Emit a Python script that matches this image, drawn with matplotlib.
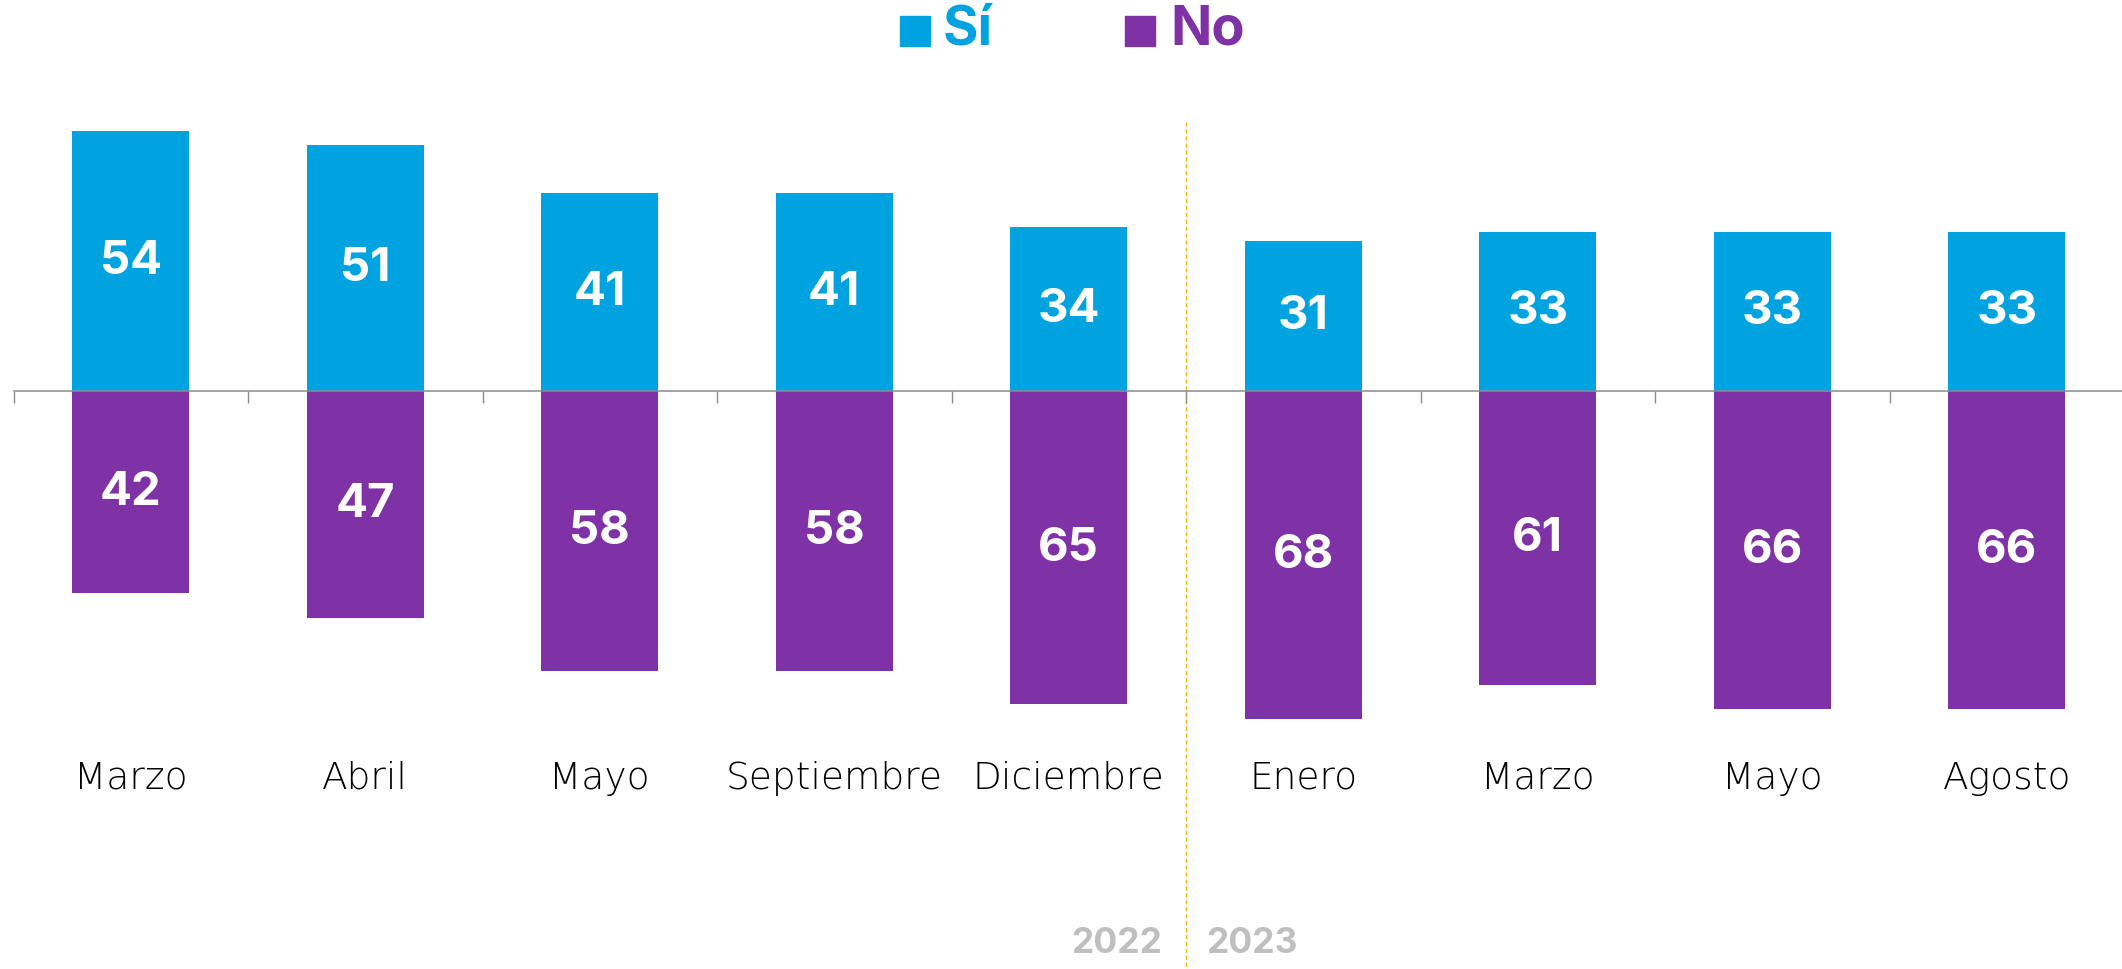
import matplotlib
matplotlib.use("Agg")
import matplotlib.pyplot as plt

categories = ["Marzo", "Abril", "Mayo", "Septiembre", "Diciembre",
              "Enero", "Marzo", "Mayo", "Agosto"]
si_values = [54, 51, 41, 41, 34, 31, 33, 33, 33]
no_values = [42, 47, 58, 58, 65, 68, 61, 66, 66]
years = ["2022", "2023"]
series_names = ["Sí", "No"]

BLUE = "#00A3E0"
PURPLE = "#7F31A6"
GREY_AXIS = "#8C8C8C"
YEAR_GREY = "#BFBFBF"
DASH = "#F5B800"

plt.rcParams['font.family'] = ['Inter', 'DejaVu Sans']

W, H = 2122, 970
fig = plt.figure(figsize=(W / 100, H / 100), dpi=100)
step = 234.5
left_px = 13.5
ax = fig.add_axes([left_px / W, 0, 9 * step / W, 1])

x = list(range(len(categories)))
ax.bar(x, si_values, width=0.5, color=BLUE, zorder=1)
ax.bar(x, [-v for v in no_values], width=0.5, color=PURPLE, zorder=1)

ax.set_xlim(-0.5, 8.5)
ax.set_ylim(-119.9, 81.3)

for s in ["top", "right", "left"]:
    ax.spines[s].set_visible(False)
ax.spines["bottom"].set_position(("data", 0))
ax.spines["bottom"].set_color(GREY_AXIS)
ax.spines["bottom"].set_linewidth(1.1)
ax.spines["bottom"].set_zorder(3)
ax.set_yticks([])
ax.set_xticks([i - 0.5 for i in range(len(categories) + 1)])
ax.set_xticklabels([])
ax.tick_params(axis="x", direction="out", length=8.5, width=1.0, color=GREY_AXIS)

for xi, v in zip(x, si_values):
    ax.text(xi, v / 2, str(v), ha="center", va="center", color="white",
            fontsize=34, fontweight="bold")
for xi, v in zip(x, no_values):
    ax.text(xi, -v / 2, str(v), ha="center", va="center", color="white",
            fontsize=34, fontweight="bold")

for xi, c in zip(x, categories):
    ax.text(xi, -80.1, c, ha="center", va="center", color="black",
            fontsize=27, fontweight="light", family=["DejaVu Sans"])

# year separator
ax.plot([4.5, 4.5], [55.8, -119.9], color=DASH, lw=1.0, ls=(0, (3, 2)), zorder=0.5)
ax.text(4.5 - 0.103, -114.3, years[0], ha="right", va="center", color=YEAR_GREY,
        fontsize=25.5, fontweight="bold")
ax.text(4.5 + 0.085, -114.3, years[1], ha="left", va="center", color=YEAR_GREY,
        fontsize=25.5, fontweight="bold")

# legend
fig.patches.append(plt.Rectangle((900 / W, 1 - 47 / H), 30 / W, 30 / H,
                                 transform=fig.transFigure, color=BLUE))
fig.text(943 / W, 1 - 30 / H, series_names[0], ha="left", va="center",
         color=BLUE, fontsize=39, fontweight="bold")
fig.patches.append(plt.Rectangle((1125 / W, 1 - 47 / H), 30 / W, 30 / H,
                                 transform=fig.transFigure, color=PURPLE))
fig.text(1170 / W, 1 - 30 / H, series_names[1], ha="left", va="center",
         color=PURPLE, fontsize=39, fontweight="bold")

fig.savefig("out.png", dpi=100)
